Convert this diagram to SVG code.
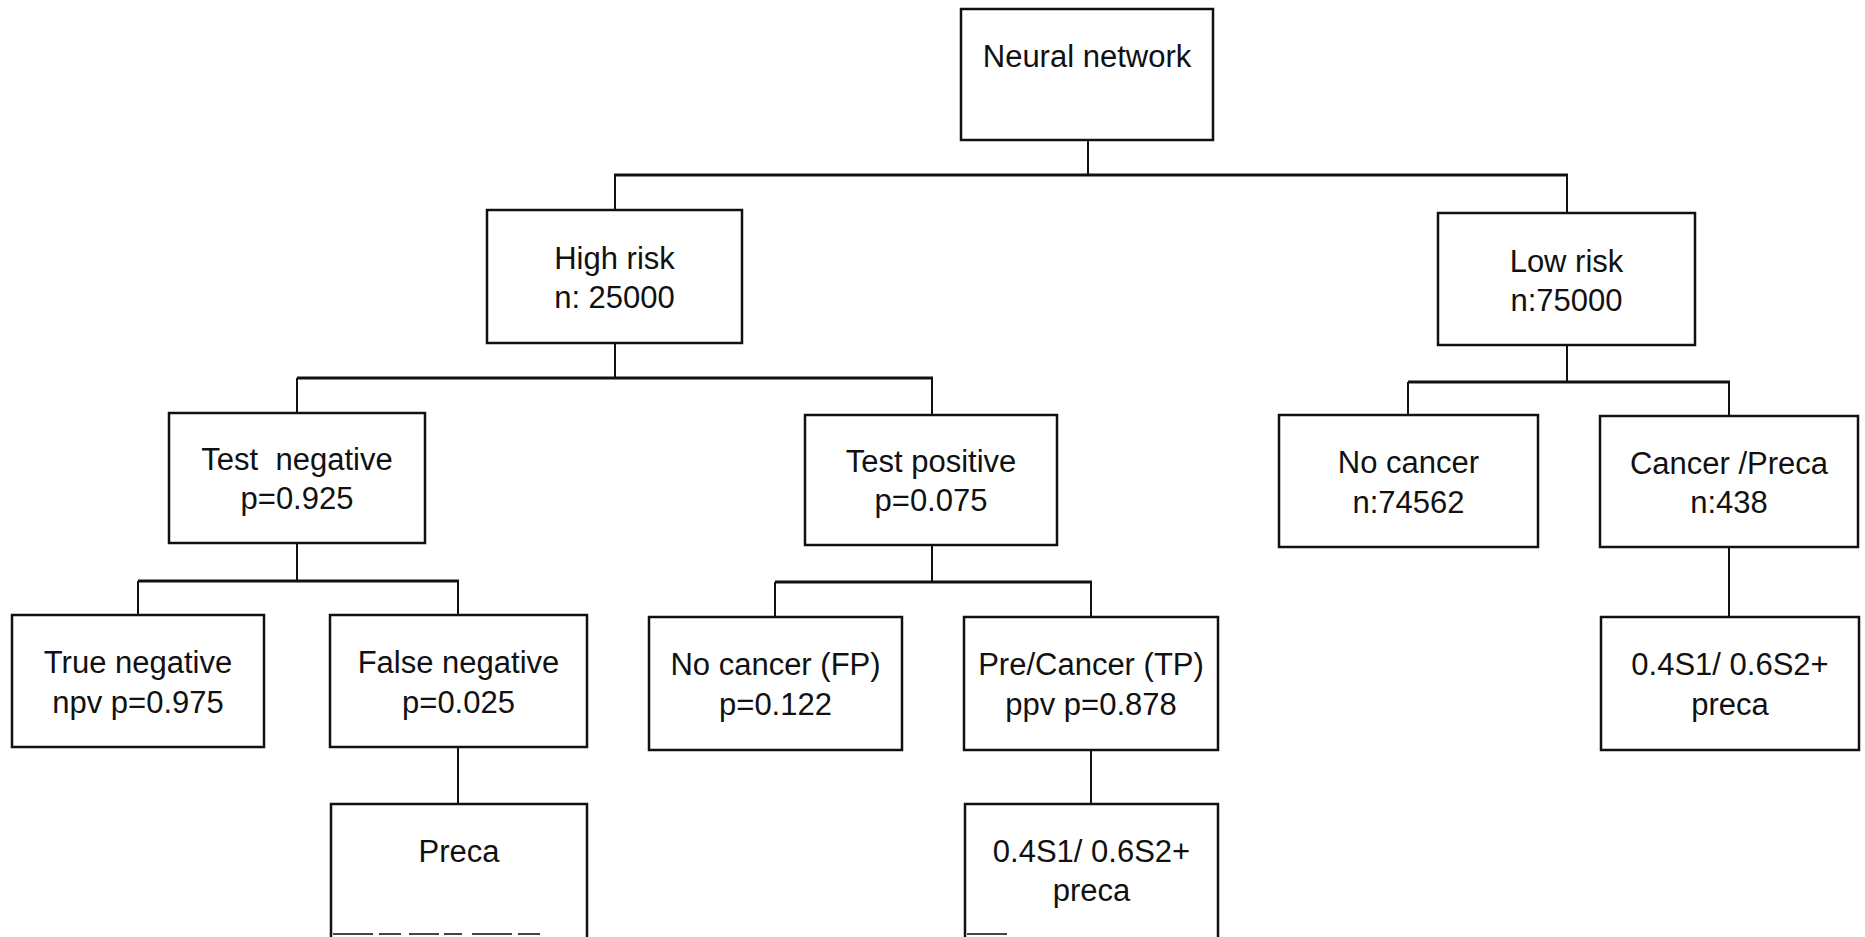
<svg xmlns="http://www.w3.org/2000/svg" width="1865" height="937" viewBox="0 0 1865 937">
  <style>
    .box { fill: #fff; stroke: #111; stroke-width: 2.5; }
    .open { fill: none; stroke: #111; stroke-width: 2.5; }
    .edge { fill: none; stroke: #444; stroke-width: 2; stroke-dasharray: 40 6 22 8 30 5 18 10; }
    .v { stroke: #111; stroke-width: 2; fill: none; }
    .h { stroke: #111; stroke-width: 3; fill: none; }
    text { font-family: "Liberation Sans", Arial, Helvetica, sans-serif; font-size: 31px; fill: #111; text-anchor: middle; }
  </style>
  <rect width="1865" height="937" fill="#fff"/>

  <g id="connectors">
    <!-- root -->
    <line class="v" x1="1088" y1="140" x2="1088" y2="175"/>
    <line class="h" x1="614" y1="175" x2="1568" y2="175"/>
    <line class="v" x1="615" y1="175" x2="615" y2="210"/>
    <line class="v" x1="1567" y1="175" x2="1567" y2="213"/>
    <!-- high risk -->
    <line class="v" x1="615" y1="343" x2="615" y2="378"/>
    <line class="h" x1="297" y1="378" x2="933" y2="378"/>
    <line class="v" x1="297" y1="378" x2="297" y2="413"/>
    <line class="v" x1="932" y1="378" x2="932" y2="415"/>
    <!-- low risk -->
    <line class="v" x1="1567" y1="345" x2="1567" y2="382"/>
    <line class="h" x1="1408" y1="382" x2="1730" y2="382"/>
    <line class="v" x1="1408" y1="382" x2="1408" y2="415"/>
    <line class="v" x1="1729" y1="382" x2="1729" y2="416"/>
    <line class="v" x1="1729" y1="547" x2="1729" y2="617"/>
    <!-- test negative -->
    <line class="v" x1="297" y1="543" x2="297" y2="581"/>
    <line class="h" x1="138" y1="581" x2="459" y2="581"/>
    <line class="v" x1="138" y1="581" x2="138" y2="615"/>
    <line class="v" x1="458" y1="581" x2="458" y2="615"/>
    <line class="v" x1="458" y1="747" x2="458" y2="804"/>
    <!-- test positive -->
    <line class="v" x1="932" y1="545" x2="932" y2="582"/>
    <line class="h" x1="775" y1="582" x2="1092" y2="582"/>
    <line class="v" x1="775" y1="582" x2="775" y2="617"/>
    <line class="v" x1="1091" y1="582" x2="1091" y2="617"/>
    <line class="v" x1="1091" y1="750" x2="1091" y2="804"/>
  </g>

  <g id="neural-network">
    <rect class="box" x="961" y="9" width="252" height="131"/>
    <text x="1087" y="67">Neural network</text>
  </g>

  <g id="high-risk">
    <rect class="box" x="487" y="210" width="255" height="133"/>
    <text x="614.5" y="269">High risk</text>
    <text x="614.5" y="308">n: 25000</text>
  </g>

  <g id="low-risk">
    <rect class="box" x="1438" y="213" width="257" height="132"/>
    <text x="1566.5" y="272">Low risk</text>
    <text x="1566.5" y="311">n:75000</text>
  </g>

  <g id="test-negative">
    <rect class="box" x="169" y="413" width="256" height="130"/>
    <text x="297" y="470" xml:space="preserve">Test  negative</text>
    <text x="297" y="509">p=0.925</text>
  </g>

  <g id="test-positive">
    <rect class="box" x="805" y="415" width="252" height="130"/>
    <text x="931" y="472">Test positive</text>
    <text x="931" y="511">p=0.075</text>
  </g>

  <g id="no-cancer">
    <rect class="box" x="1279" y="415" width="259" height="132"/>
    <text x="1408.5" y="473">No cancer</text>
    <text x="1408.5" y="513">n:74562</text>
  </g>

  <g id="cancer-preca">
    <rect class="box" x="1600" y="416" width="258" height="131"/>
    <text x="1729" y="474">Cancer /Preca</text>
    <text x="1729" y="513">n:438</text>
  </g>

  <g id="true-negative">
    <rect class="box" x="12" y="615" width="252" height="132"/>
    <text x="138" y="673">True negative</text>
    <text x="138" y="713">npv p=0.975</text>
  </g>

  <g id="false-negative">
    <rect class="box" x="330" y="615" width="257" height="132"/>
    <text x="458.5" y="673">False negative</text>
    <text x="458.5" y="713">p=0.025</text>
  </g>

  <g id="false-positive">
    <rect class="box" x="649" y="617" width="253" height="133"/>
    <text x="775.5" y="675">No cancer (FP)</text>
    <text x="775.5" y="715">p=0.122</text>
  </g>

  <g id="true-positive">
    <rect class="box" x="964" y="617" width="254" height="133"/>
    <text x="1091" y="675">Pre/Cancer (TP)</text>
    <text x="1091" y="715">ppv p=0.878</text>
  </g>

  <g id="low-risk-outcome">
    <rect class="box" x="1601" y="617" width="258" height="133"/>
    <text x="1730" y="675">0.4S1/ 0.6S2+</text>
    <text x="1730" y="715">preca</text>
  </g>

  <g id="preca">
    <path class="open" d="M331,937 V804 H587 V937"/>
    <line class="edge" x1="333" y1="934" x2="545" y2="934"/>
    <text x="459" y="862">Preca</text>
  </g>

  <g id="true-positive-outcome">
    <path class="open" d="M965,937 V804 H1218 V937"/>
    <line class="edge" x1="967" y1="934" x2="1010" y2="934"/>
    <text x="1091.5" y="862">0.4S1/ 0.6S2+</text>
    <text x="1091.5" y="901">preca</text>
  </g>
</svg>
